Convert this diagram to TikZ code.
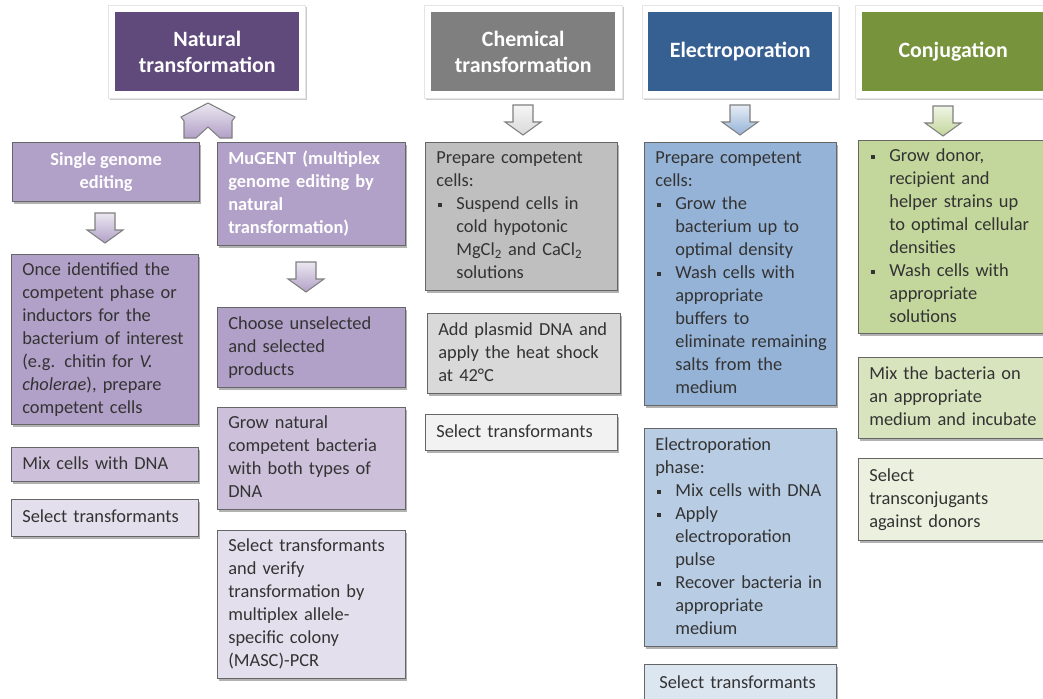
\documentclass[tikz,border=0pt]{standalone}
\usepackage{fontspec}
\setmainfont{Carlito}
\usetikzlibrary{shadows}
\definecolor{purD}{HTML}{604A7B}
\definecolor{purM}{HTML}{B1A0C7}
\definecolor{purL}{HTML}{CCC0DA}
\definecolor{purX}{HTML}{E4DFEC}
\definecolor{gryD}{HTML}{7F7F7F}
\definecolor{gryM}{HTML}{BFBFBF}
\definecolor{gryL}{HTML}{D9D9D9}
\definecolor{gryX}{HTML}{F2F2F2}
\definecolor{bluD}{HTML}{366092}
\definecolor{bluM}{HTML}{95B3D7}
\definecolor{bluL}{HTML}{B8CCE4}
\definecolor{bluX}{HTML}{DCE6F1}
\definecolor{grnD}{HTML}{77933C}
\definecolor{grnM}{HTML}{C3D69B}
\definecolor{grnL}{HTML}{D7E4BD}
\definecolor{grnX}{HTML}{EBF1DE}
\newcommand\bfnt{\fontsize{13.8}{17.25}\selectfont}
\newcommand\hfnt{\fontsize{16.4}{19.6}\selectfont\bfseries}
\newcommand\bul{\makebox[15pt][l]{\hspace{1pt}\raisebox{0.28ex}{\rule{3pt}{3pt}}}}
\newcommand\ind{\hspace*{15pt}}
\newcommand\tbox[7]{\node[#6,anchor=north west,minimum width={(#4-#2)*0.75pt},minimum height={(#5-#3)*0.75pt},text width={(#4-#2)*0.75pt-16pt}] (#1) at (#2,#3) {\begin{tabular}{@{}l@{}}#7\end{tabular}};}
\newcommand\rbox[7]{\node[#6,anchor=north west,minimum width={(#4-#2)*0.75pt},minimum height={(#5-#3)*0.75pt}] (#1) at (#2,#3) {#7};}
\tikzset{
  myshadow/.style={drop shadow={shadow xshift=1.2pt,shadow yshift=-1.5pt,fill=black,opacity=0.3}},
  bodybox/.style={draw=black!60,line width=1pt,inner xsep=8pt,inner ysep=1pt,align=left,font=\bfnt,text=black!80,myshadow},
  whitebox/.style={draw=black!60,line width=1pt,inner xsep=8pt,inner ysep=1pt,font=\bfnt\bfseries,text=white,myshadow},
  hframe/.style={fill=white,draw=black!10,line width=0.5pt,inner sep=0pt,drop shadow={shadow xshift=1pt,shadow yshift=-1.5pt,fill=black,opacity=0.2}},
  hinner/.style={inner sep=0pt,font=\hfnt,text=white,align=center},
  pics/barrow/.style={code={
    \draw[draw=black!50,line width=0.8pt,top color=#1!25,bottom color=#1]
      (-10,-15) -- (10,-15) -- (10,2) -- (18,2) -- (0,15) -- (-18,2) -- (-10,2) -- cycle;}}
}
\begin{document}
\begin{tikzpicture}[x=0.75pt,y=-0.75pt]
\useasboundingbox (0,0) rectangle (1043,699);
\fill[white] (0,0) rectangle (1043,699);
\clip (0,0) rectangle (1043,699);

% headers
\rbox{hfN}{108}{5}{305}{98}{hframe}{}
\rbox{hN}{115}{12}{299}{91}{hinner,fill=purD}{Natural\\transformation}
\rbox{hfC}{424}{5}{622}{98}{hframe}{}
\rbox{hC}{431}{12}{615}{91}{hinner,fill=gryD}{Chemical\\transformation}
\rbox{hfE}{642}{5}{838}{98}{hframe}{}
\rbox{hE}{648}{12}{832}{91}{hinner,fill=bluD}{Electroporation}
\rbox{hfG}{855}{5}{1060}{98}{hframe}{}
\rbox{hG}{862}{12}{1060}{91}{hinner,fill=grnD}{Conjugation\hspace*{12pt}}

% natural transformation column
\rbox{sge}{12}{142}{199}{201}{whitebox,fill=purM,align=center}{Single genome\\editing}
\tbox{mug}{217}{142}{405}{245}{whitebox,fill=purM,align=left}{MuGENT (multiplex\\genome editing by\\natural\\transformation)}
\tbox{onc}{11}{254}{198}{424}{bodybox,fill=purM}{Once identified the\\competent phase or\\inductors for the\\bacterium of interest\\(e.g. chitin for \textit{V.}\\\textit{cholerae}), prepare\\competent cells}
\tbox{mix}{11}{447}{198}{481}{bodybox,fill=purL}{Mix cells with DNA}
\tbox{sel}{11}{499}{198}{536}{bodybox,fill=purX}{Select transformants}
\tbox{cho}{217}{307}{405}{387}{bodybox,fill=purM}{Choose unselected\\and selected\\products}
\tbox{grw}{217}{407}{405}{509}{bodybox,fill=purL}{Grow natural\\competent bacteria\\with both types of\\DNA}
\tbox{ver}{217}{530}{405}{678}{bodybox,fill=purX}{Select transformants\\and verify\\transformation by\\multiplex allele-\\specific colony\\(MASC)-PCR}

% chemical column
\tbox{cp}{425}{142}{617}{290}{bodybox,fill=gryM}{Prepare competent\\cells:\\\bul Suspend cells in\\\ind cold hypotonic\\\ind MgCl\textsubscript{2} and CaCl\textsubscript{2}\\\ind solutions}
\tbox{ap}{427}{313}{620}{393}{bodybox,fill=gryL}{Add plasmid DNA and\\apply the heat shock\\at 42°C}
\tbox{cs}{425}{414}{617}{450}{bodybox,fill=gryX}{Select transformants}

% electroporation column
\tbox{ep}{644}{142}{836}{405}{bodybox,fill=bluM}{Prepare competent\\cells:\\\bul Grow the\\\ind bacterium up to\\\ind optimal density\\\bul Wash cells with\\\ind appropriate\\\ind buffers to\\\ind eliminate remaining\\\ind salts from the\\\ind medium}
\tbox{eph}{644}{428}{836}{646}{bodybox,fill=bluL}{Electroporation\\phase:\\\bul Mix cells with DNA\\\bul Apply\\\ind electroporation\\\ind pulse\\\bul Recover bacteria in\\\ind appropriate\\\ind medium}
\tbox{es}{644}{664}{836}{703}{bodybox,fill=bluX}{\hspace*{3pt}Select transformants}

% conjugation column
\tbox{gp}{858}{140}{1060}{333}{bodybox,fill=grnM}{\bul Grow donor,\\\ind recipient and\\\ind helper strains up\\\ind to optimal cellular\\\ind densities\\\bul Wash cells with\\\ind appropriate\\\ind solutions}
\tbox{gm}{858}{357}{1060}{438}{bodybox,fill=grnL}{Mix the bacteria on\\an appropriate\\medium and incubate}
\tbox{gs}{858}{458}{1060}{540}{bodybox,fill=grnX}{Select\\transconjugants\\against donors}

% block arrows
\draw[draw=black!50,line width=0.8pt,top color=purM!25,bottom color=purM]
  (208,103) -- (235,117) -- (232,121) -- (232,138) -- (220,138) -- (208,127)
  -- (196,138) -- (184,138) -- (184,121) -- (181,117) -- cycle;
\pic at (105,228) {barrow=purM};
\pic at (306,277) {barrow=purM};
\pic at (523,120) {barrow=gryL};
\pic at (740,120) {barrow=bluM};
\pic at (943,121) {barrow=grnM};
\end{tikzpicture}
\end{document}
